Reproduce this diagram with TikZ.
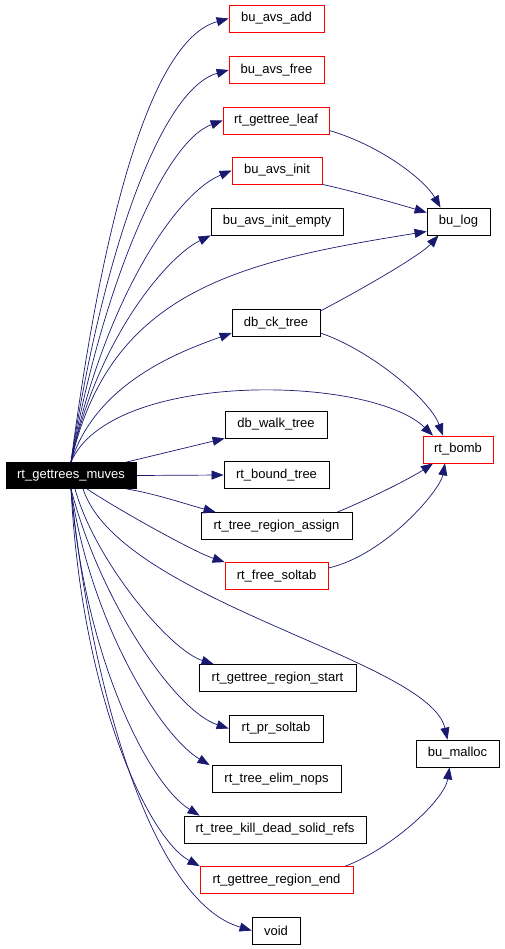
\documentclass[tikz,border=0pt]{standalone}
\usepackage{fontspec}
\setmainfont{Liberation Sans}
\usepackage{xcolor}
\usepackage{tikz}
\usetikzlibrary{arrows.meta}
\definecolor{edgeNavy}{HTML}{191970}
\definecolor{nodeRed}{HTML}{FF0000}
\tikzset{
  callbox/.style={rectangle, draw=black, fill=white, line width=0.8pt, font=\fontsize{13}{15}\selectfont, minimum width=#1, minimum height=27pt, inner sep=0pt},
  callred/.style={callbox=#1, draw=nodeRed},
  callroot/.style={callbox=#1, fill=black, text=white, minimum height=26pt},
  callarrow/.style={-{Triangle[length=12pt,width=9pt]}, line width=0.7pt, draw=edgeNavy},
}
\begin{document}
\begin{tikzpicture}[x=1pt,y=-1pt]
  \useasboundingbox (0,0) rectangle (504,949);
  % Caller
  \node[callroot=130pt] (root) at (71,475.5) {rt\_gettrees\_muves};

  % Callees
  \node[callred=95pt] (avsadd) at (276.5,18.5) {bu\_avs\_add};
  \node[callred=95pt] (avsfree) at (276.5,70) {bu\_avs\_free};
  \node[callred=106pt] (treeleaf) at (276,120.5) {rt\_gettree\_leaf};
  \node[callred=90pt] (avsinit) at (277,170.5) {bu\_avs\_init};
  \node[callbox=132pt] (avsempty) at (277,221.5) {bu\_avs\_init\_empty};
  \node[callbox=88pt] (dbck) at (276,323) {db\_ck\_tree};
  \node[callbox=102pt] (walktree) at (276,424.5) {db\_walk\_tree};
  \node[callbox=105pt] (boundtree) at (276.5,475) {rt\_bound\_tree};
  \node[callbox=151pt] (regassign) at (276.5,526) {rt\_tree\_region\_assign};
  \node[callred=103pt] (freesoltab) at (276.5,576) {rt\_free\_soltab};
  \node[callbox=157pt] (regstart) at (277.5,678) {rt\_gettree\_region\_start};
  \node[callbox=94pt] (prsoltab) at (276,728.5) {rt\_pr\_soltab};
  \node[callbox=129pt] (elimnops) at (276.5,779) {rt\_tree\_elim\_nops};
  \node[callbox=182pt] (killrefs) at (275,829.5) {rt\_tree\_kill\_dead\_solid\_refs};
  \node[callred=153pt] (regend) at (276.5,880) {rt\_gettree\_region\_end};
  \node[callbox=48pt] (void) at (276,930.5) {void};

  % Second level
  \node[callbox=63pt] (bulog) at (458.5,221.5) {bu\_log};
  \node[callred=70pt] (rtbomb) at (458,449.5) {rt\_bomb};
  \node[callbox=83pt] (bumalloc) at (457.5,753.5) {bu\_malloc};

  % Arrows from the caller
  \draw[callarrow] (root.north) .. controls +(30,-230) and +(-80,22) .. (avsadd.west);
  \draw[callarrow] (root.north) .. controls +(30,-200) and +(-70,20) .. (avsfree.west);
  \draw[callarrow] (root.north) .. controls +(30,-170) and +(-60,22) .. (treeleaf.west);
  \draw[callarrow] (root.north) .. controls +(30,-150) and +(-60,25) .. (avsinit.west);
  \draw[callarrow] (root.north) .. controls +(25,-120) and +(-45,22) .. (avsempty.south west);
  \draw[callarrow] (root.north) .. controls +(39,-172) and +(-187,30) .. ([yshift=-10pt]bulog.west);
  \draw[callarrow] (root.north) .. controls +(25,-80) and +(-50,18) .. ([yshift=-10pt]dbck.west);
  \draw[callarrow] (root.north) .. controls +(39,-92) and +(-63,-61) .. ([xshift=-25pt]rtbomb.north);
  \draw[callarrow] ([xshift=-10pt]root.north east) -- (walktree.south west);
  \draw[callarrow] (root.east) -- (boundtree.west);
  \draw[callarrow] ([xshift=-10pt]root.south east) .. controls +(30,5) and +(-30,-8) .. ([xshift=15pt]regassign.north west);
  \draw[callarrow] ([xshift=16pt]root.south) .. controls +(33,22) and +(-30,-10) .. (freesoltab.north west);
  \draw[callarrow] ([xshift=12pt]root.south) .. controls +(37,112) and +(-18,-80) .. ([xshift=-10pt]bumalloc.north);
  \draw[callarrow] ([xshift=4pt]root.south) .. controls +(20,72) and +(-44,-14) .. ([xshift=15pt]regstart.north west);
  \draw[callarrow] (root.south) .. controls +(29,112) and +(-54,-18) .. (prsoltab.west);
  \draw[callarrow] (root.south) .. controls +(19,132) and +(-50,-30) .. ([xshift=-2pt]elimnops.north west);
  \draw[callarrow] (root.south) .. controls +(14,172) and +(-50,-31) .. ([xshift=16pt]killrefs.north west);
  \draw[callarrow] (root.south) .. controls +(11,212) and +(-50,-27) .. (regend.north west);
  \draw[callarrow] (root.south) .. controls +(19,192) and +(-102,-30) .. (void.west);

  % Arrows between callees
  \draw[callarrow] ([yshift=-10pt]treeleaf.east) .. controls +(51,15) and +(-16,-28) .. ([xshift=-18pt]bulog.north);
  \draw[callarrow] (avsinit.south east) .. controls +(28,6) and +(-27,-8) .. ([yshift=9pt]bulog.west);
  \draw[callarrow] ([yshift=12pt]dbck.east) .. controls +(40,-21) and +(-18,20) .. ([xshift=-20pt]bulog.south);
  \draw[callarrow] ([yshift=-10pt]dbck.east) .. controls +(50,17) and +(-13,-36) .. ([xshift=-15pt]rtbomb.north);
  \draw[callarrow] ([xshift=-15pt]regassign.north east) .. controls +(43,-18) and +(-18,12) .. ([xshift=-25pt]rtbomb.south);
  \draw[callarrow] ([yshift=8pt]freesoltab.east) .. controls +(57,-13) and +(-5,27) .. ([xshift=-13pt]rtbomb.south);
  \draw[callarrow] ([xshift=-8pt]regend.north east) .. controls +(45,-17) and +(-5,33) .. ([xshift=-8pt]bumalloc.south);
\end{tikzpicture}
\end{document}
